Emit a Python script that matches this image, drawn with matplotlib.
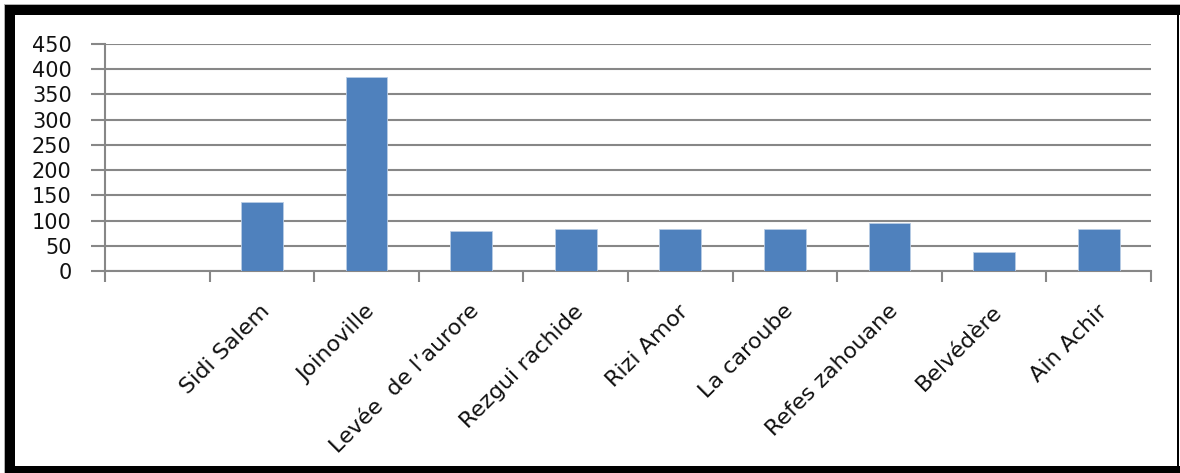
import matplotlib
matplotlib.use("Agg")
import matplotlib.pyplot as plt
import matplotlib.patches as mpatches
import matplotlib.transforms as mtransforms
import numpy as np

# données par site (la première catégorie est vide)
sites = ["", "Sidi Salem", "Joinoville", "Levée  de l\u2019aurore", "Rezgui rachide",
         "Rizi Amor", "La caroube", "Refes zahouane", "Belvédère", "Ain Achir"]
valeurs = [0, 136, 385, 79, 83, 83, 83, 96, 38, 83]
y_ticks = [0, 50, 100, 150, 200, 250, 300, 350, 400, 450]

W, H = 1180, 473
plt.rcParams['font.family'] = ['DejaVu Sans']

fig = plt.figure(figsize=(W / 100, H / 100), dpi=100, facecolor='white')
ax = fig.add_axes([105 / W, 1 - 271 / H, (1151 - 105) / W, (271 - 44) / H])

gris = '#878787'
x = np.arange(len(sites))
ax.bar(x, valeurs, width=0.4, color='#4F81BD', edgecolor='#B9CDE5',
       linewidth=0.6, zorder=3)

ax.set_xlim(-0.5, len(sites) - 0.5)
ax.set_ylim(0, 450)
ax.set_yticks(y_ticks)
ax.set_yticklabels([str(v) for v in y_ticks], fontsize=15, color='#111111')
ax.tick_params(axis='y', length=10, width=1.5, color=gris, pad=14)
ax.yaxis.grid(True, color=gris, linewidth=1.5, zorder=0)
ax.set_axisbelow(True)

# graduations entre les catégories
ax.set_xticks(np.arange(len(sites) + 1) - 0.5)
ax.set_xticklabels([])
ax.tick_params(axis='x', length=8, width=1.5, color=gris)

for s in ['top', 'right']:
    ax.spines[s].set_visible(False)
for s in ['left', 'bottom']:
    ax.spines[s].set_color(gris)
    ax.spines[s].set_linewidth(1.5)

# étiquettes inclinées à 45°
decal = mtransforms.ScaledTranslation(-0.02, -0.30, fig.dpi_scale_trans)
for xi, nom in zip(x, sites):
    ax.text(xi, 0, nom, transform=ax.transData + decal, rotation=45,
            rotation_mode='anchor', ha='right', va='top', fontsize=16,
            color='#111111')

# cadre noir autour du graphique
def bande(x0, y0, x1, y1, couleur='black'):
    fig.patches.append(mpatches.Rectangle(
        (x0 / W, 1 - y1 / H), (x1 - x0) / W, (y1 - y0) / H,
        transform=fig.transFigure, facecolor=couleur, edgecolor='none'))

bande(4, 4, 1180, 5, '#b0b0b0')
bande(4, 4, 5, 473, '#b0b0b0')
bande(5, 5, 1180, 15)
bande(5, 5, 15, 473)
bande(5, 466, 1180, 473)
bande(1177, 5, 1179, 473)

fig.savefig('out.png', dpi=100, facecolor='white')
